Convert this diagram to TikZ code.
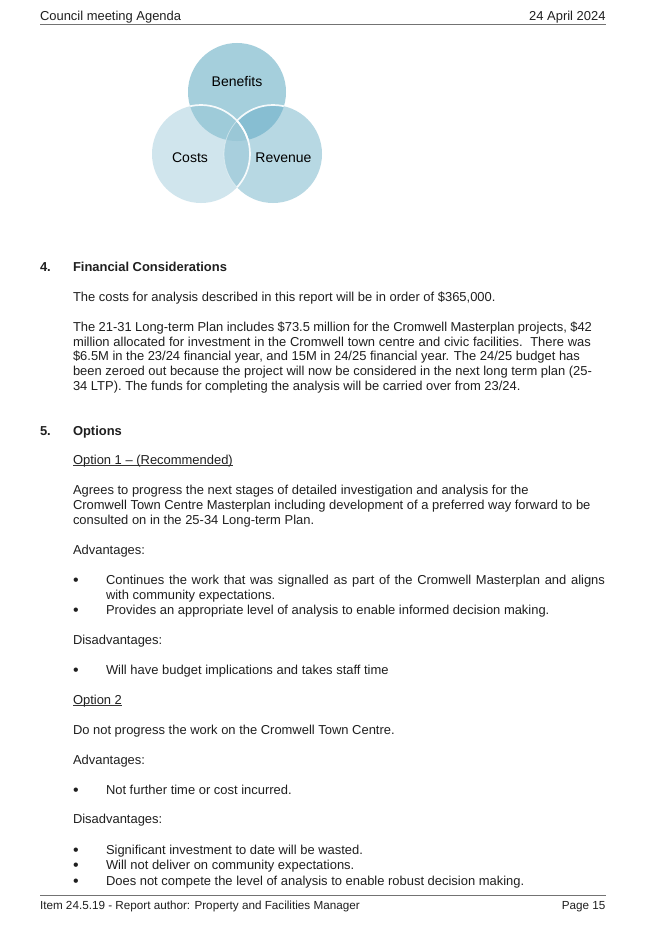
\documentclass[tikz,border=0pt]{standalone}
\usepackage{fontspec}
\setmainfont{Liberation Sans}
\tikzset{
  x=1pt,y=-1pt,
  txt/.style={anchor=base west,inner sep=0pt,outer sep=0pt,text=black!88,font=\fontsize{12.95}{15}\selectfont},
  txtr/.style={txt,anchor=base east},
  head/.style={txt,font=\fontsize{12.95}{15}\selectfont\bfseries},
  bul/.style={txt,font=\fontsize{16}{18}\selectfont},
  foot/.style={font=\fontsize{11.7}{14}\selectfont},
  venn/.style={txt,anchor=base,text=black,font=\fontsize{14}{16}\selectfont},
  rulel/.style={draw=black!55,line width=0.9pt},
  ring/.style={draw=white,draw opacity=0.9,line width=1.7pt},
  ringthin/.style={draw=white,draw opacity=0.45,line width=0.8pt},
  ulin/.style={draw=black!80,line width=0.7pt},
}
\newcommand{\just}[2]{\makebox[#1pt][s]{#2}}
\begin{document}
\begin{tikzpicture}
\useasboundingbox[fill=white] (0,0) rectangle (645,934);
% header
\node[txt] (hl) at (40,20.5) {Council meeting Agenda};
\node[txtr] (hr) at (605.5,20.5) {24 April 2024};
\coordinate (ha) at (40,24.5); \coordinate (hb) at (605.5,24.5);
\draw[rulel] (ha) -- (hb);
% venn
\coordinate (B) at (237,92); \coordinate (C) at (201,154); \coordinate (R) at (273,154);
\fill[fill={rgb,255:red,165;green,207;blue,220}] (B) circle (49);
\fill[fill={rgb,255:red,208;green,229;blue,237}] (C) circle (49);
\fill[fill={rgb,255:red,183;green,216;blue,227}] (R) circle (49);
\begin{scope}\clip (B) circle (49);\fill[fill={rgb,255:red,158;green,203;blue,217}] (C) circle (49);\end{scope}
\begin{scope}\clip (B) circle (49);\fill[fill={rgb,255:red,135;green,190;blue,210}] (R) circle (49);\end{scope}
\begin{scope}\clip (C) circle (49);\fill[fill={rgb,255:red,168;green,207;blue,221}] (R) circle (49);\end{scope}
\begin{scope}\clip (C) circle (49);\clip (R) circle (49);\fill[fill={rgb,255:red,154;green,199;blue,214}] (B) circle (49);\end{scope}
\begin{scope}\clip (C) circle (49);\draw[ringthin] (R) circle (49);\end{scope}
\begin{scope}\clip (B) circle (49);\draw[ring] (C) circle (49);\end{scope}
\begin{scope}\clip (R) circle (49);\draw[ring] (C) circle (49);\end{scope}
\begin{scope}\clip (237,0) rectangle (400,400);\clip (B) circle (49);\draw[ring] (R) circle (49);\end{scope}
\node[venn] (vb) at (237,86) {Benefits};
\node[venn] (vc) at (190,162.5) {Costs};
\node[venn] (vr) at (283.5,162.5) {Revenue};
% section 4
\node[head] (s4n) at (40,271) {4.};
\node[head] (s4t) at (73,271) {Financial Considerations};
\node[txt] (a1) at (73,301) {The costs for analysis described in this report will be in order of \$365,000.};
\node[txt] (a2) at (73,331) {\just{519}{The 21-31 Long-term Plan includes \$73.5 million for the Cromwell Masterplan projects, \$42}};
\node[txt] (a3) at (73,346) {\just{518}{million allocated for investment in the Cromwell town centre and civic facilities.\ \ There was}};
\node[txt] (a4) at (73,360) {\just{507}{\$6.5M in the 23/24 financial year, and 15M in 24/25 financial year. The 24/25 budget has}};
\node[txt] (a5) at (73,375) {\just{519}{been zeroed out because the project will now be considered in the next long term plan (25-}};
\node[txt] (a6) at (73,390) {34 LTP). The funds for completing the analysis will be carried over from 23/24.};
% section 5
\node[head] (s5n) at (40,435) {5.};
\node[head] (s5t) at (73,435) {Options};
\node[txt] (o1) at (73,464) {Option 1 – (Recommended)};
\coordinate (o1a) at (o1.base west); \coordinate (o1b) at (o1.base east);
\draw[ulin] ([yshift=-1.5pt]o1a) -- ([yshift=-1.5pt]o1b);
\node[txt] (b1) at (73,494) {Agrees to progress the next stages of detailed investigation and analysis for the};
\node[txt] (b2) at (73,509) {Cromwell Town Centre Masterplan including development of a preferred way forward to be};
\node[txt] (b3) at (73,524) {consulted on in the 25-34 Long-term Plan.};
\node[txt] (c1) at (73,554) {Advantages:};
\node[bul] (d1b) at (73,585.2) {•};
\node[txt] (d1) at (106,584) {\just{499}{Continues the work that was signalled as part of the Cromwell Masterplan and aligns}};
\node[txt] (d2) at (106,599) {with community expectations.};
\node[bul] (d3b) at (73,615.2) {•};
\node[txt] (d3) at (106,614) {Provides an appropriate level of analysis to enable informed decision making.};
\node[txt] (e1) at (73,644) {Disadvantages:};
\node[bul] (e2b) at (73,675.2) {•};
\node[txt] (e2) at (106,674) {Will have budget implications and takes staff time};
\node[txt] (f1) at (73,704) {Option 2};
\coordinate (f1a) at (f1.base west); \coordinate (f1b) at (f1.base east);
\draw[ulin] ([yshift=-1.5pt]f1a) -- ([yshift=-1.5pt]f1b);
\node[txt] (f2) at (73,734) {Do not progress the work on the Cromwell Town Centre.};
\node[txt] (g1) at (73,764) {Advantages:};
\node[bul] (g2b) at (73,795.2) {•};
\node[txt] (g2) at (106,794) {Not further time or cost incurred.};
\node[txt] (h1) at (73,823) {Disadvantages:};
\node[bul] (h2b) at (73,855.2) {•};
\node[txt] (h2) at (106,854) {Significant investment to date will be wasted.};
\node[bul] (h3b) at (73,870.2) {•};
\node[txt] (h3) at (106,869) {Will not deliver on community expectations.};
\node[bul] (h4b) at (73,886.2) {•};
\node[txt] (h4) at (106,885) {Does not compete the level of analysis to enable robust decision making.};
% footer
\coordinate (fa) at (40,895.5); \coordinate (fb) at (605.5,895.5);
\draw[rulel] (fa) -- (fb);
\node[txt,foot] (fl) at (40,909) {Item 24.5.19 - Report author: Property and Facilities Manager};
\node[txtr,foot] (fr) at (605.5,909) {Page 15};
\end{tikzpicture}
\end{document}
